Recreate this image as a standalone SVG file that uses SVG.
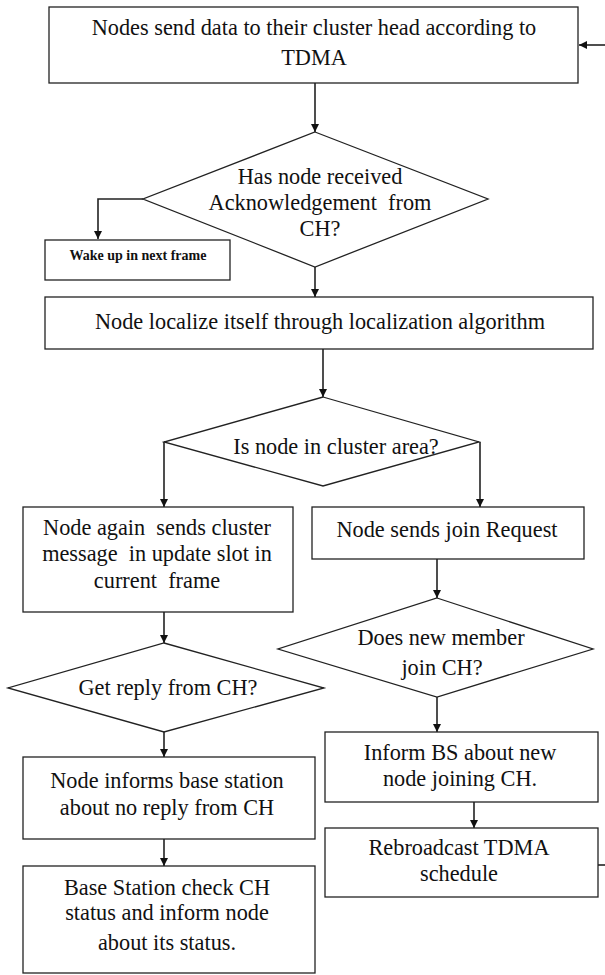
<svg xmlns="http://www.w3.org/2000/svg" width="605" height="975" viewBox="0 0 605 975">
<style>
.b{fill:#fff;stroke:#222;stroke-width:1.3}
.t{font-family:"Liberation Serif","Times New Roman",serif;font-size:22.3px;fill:#111;text-anchor:middle}
.s{font-family:"Liberation Serif","Times New Roman",serif;font-size:14px;fill:#111;text-anchor:middle;font-weight:bold}
.c{fill:none;stroke:#222;stroke-width:1.6}
</style>
<defs>
<marker id="ah" markerUnits="userSpaceOnUse" markerWidth="8" markerHeight="8" refX="8" refY="4" orient="auto">
<path d="M0,0 L8,4 L0,8 z" fill="#111"/>
</marker>
</defs>
<rect width="605" height="975" fill="#fff"/>
<g id="connectors">
<line class="c" x1="605" y1="45" x2="579" y2="45" marker-end="url(#ah)"/>
<line class="c" x1="315" y1="83" x2="315" y2="132" marker-end="url(#ah)"/>
<polyline class="c" points="143,199 98,199 98,239" marker-end="url(#ah)"/>
<line class="c" x1="315" y1="267" x2="315" y2="297" marker-end="url(#ah)"/>
<line class="c" x1="323" y1="349" x2="323" y2="397" marker-end="url(#ah)"/>
<line class="c" x1="164" y1="442" x2="164" y2="507" marker-end="url(#ah)"/>
<line class="c" x1="480" y1="442" x2="480" y2="507" marker-end="url(#ah)"/>
<line class="c" x1="437" y1="559" x2="437" y2="598" marker-end="url(#ah)"/>
<line class="c" x1="164" y1="612" x2="164" y2="643" marker-end="url(#ah)"/>
<line class="c" x1="164" y1="732" x2="164" y2="757" marker-end="url(#ah)"/>
<line class="c" x1="164" y1="839" x2="164" y2="866" marker-end="url(#ah)"/>
<line class="c" x1="437" y1="697" x2="437" y2="732" marker-end="url(#ah)"/>
<line class="c" x1="474" y1="802" x2="474" y2="828" marker-end="url(#ah)"/>
<line class="c" x1="598" y1="865" x2="605" y2="865"/>
</g>
<g id="n1"><rect class="b" x="49" y="7" width="529" height="76"/>
<text class="t" x="314" y="35">Nodes send data to their cluster head according to</text>
<text class="t" x="314" y="65">TDMA</text></g>
<g id="d1"><polygon class="b" points="315,132 488,199 315,267 143,199"/>
<text class="t" x="320" y="184">Has node received</text>
<text class="t" x="320" y="210" xml:space="preserve">Acknowledgement  from</text>
<text class="t" x="320" y="236">CH?</text></g>
<g id="n2"><rect class="b" x="45" y="240" width="185" height="40"/>
<text class="s" x="138" y="260">Wake up in next frame</text></g>
<g id="n3"><rect class="b" x="45" y="297" width="548" height="52"/>
<text class="t" x="320" y="329">Node localize itself through localization algorithm</text></g>
<g id="d2"><polygon class="b" points="323,397 479,442 323,486 164,442"/>
<text class="t" x="336" y="454">Is node in cluster area?</text></g>
<g id="n4"><rect class="b" x="23" y="507" width="270" height="105"/>
<text class="t" x="157" y="535" xml:space="preserve">Node again  sends cluster</text>
<text class="t" x="157" y="561" xml:space="preserve">message  in update slot in</text>
<text class="t" x="157" y="588" xml:space="preserve">current  frame</text></g>
<g id="n5"><rect class="b" x="312" y="507" width="272" height="52"/>
<text class="t" x="447" y="537">Node sends join Request</text></g>
<g id="d3"><polygon class="b" points="437,598 593,649 437,697 278,649"/>
<text class="t" x="441" y="645">Does new member</text>
<text class="t" x="442" y="675">join CH?</text></g>
<g id="d4"><polygon class="b" points="164,643 324,688 164,732 8,688"/>
<text class="t" x="168" y="695">Get reply from CH?</text></g>
<g id="n6"><rect class="b" x="23" y="757" width="292" height="82"/>
<text class="t" x="167" y="788">Node informs base station</text>
<text class="t" x="167" y="815">about no reply from CH</text></g>
<g id="n7"><rect class="b" x="23" y="866" width="292" height="107"/>
<text class="t" x="167" y="895">Base Station check CH</text>
<text class="t" x="167" y="920">status and inform node</text>
<text class="t" x="167" y="950">about its status.</text></g>
<g id="n8"><rect class="b" x="325" y="732" width="273" height="70"/>
<text class="t" x="460" y="760">Inform BS about new</text>
<text class="t" x="460" y="786">node joining CH.</text></g>
<g id="n9"><rect class="b" x="325" y="828" width="273" height="69"/>
<text class="t" x="459" y="855">Rebroadcast TDMA</text>
<text class="t" x="459" y="881">schedule</text></g>
</svg>
